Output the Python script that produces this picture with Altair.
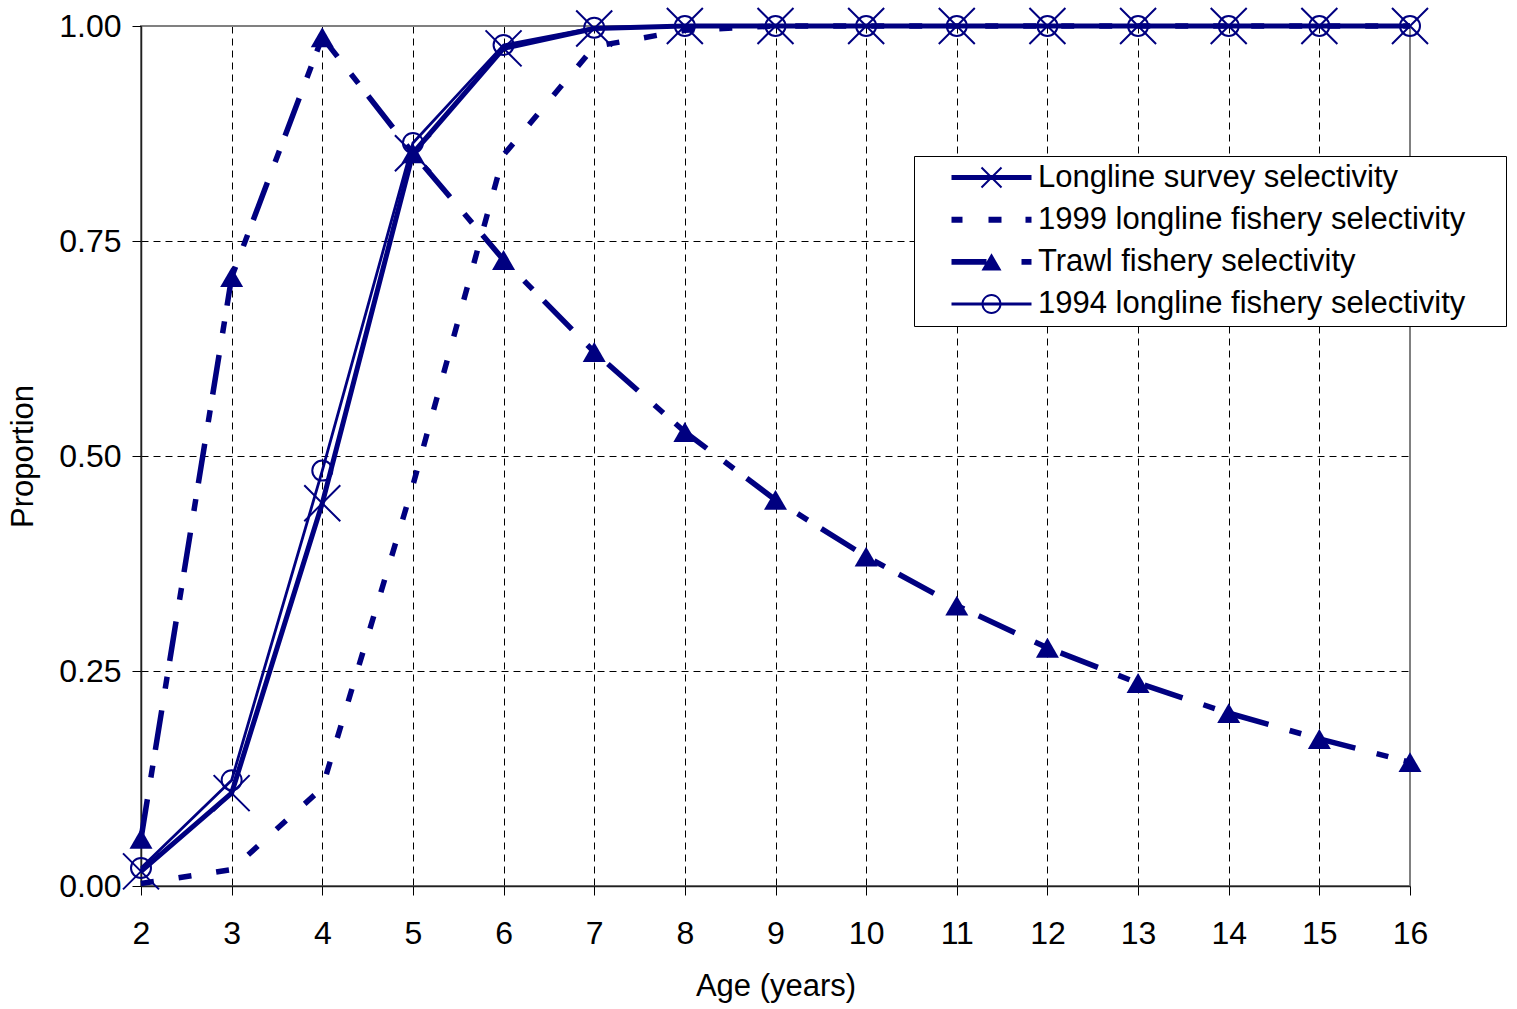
import altair as alt
import pandas as pd

ages = list(range(2, 17))
series_names = [
    "Longline survey selectivity",
    "1999 longline fishery selectivity",
    "Trawl fishery selectivity",
    "1994 longline fishery selectivity",
]
survey = [0.017, 0.108, 0.445, 0.852, 0.974, 0.997, 1.0, 1.0, 1.0, 1.0, 1.0, 1.0, 1.0, 1.0, 1.0]
ll1999 = [0.003, 0.019, 0.114, 0.466, 0.850, 0.976, 0.995, 1.0, 1.0, 1.0, 1.0, 1.0, 1.0, 1.0, 1.0]
trawl = [0.055, 0.708, 0.987, 0.852, 0.728, 0.621, 0.528, 0.449, 0.383, 0.326, 0.277, 0.236, 0.201, 0.171, 0.144]
ll1994 = [0.021, 0.123, 0.483, 0.864, 0.978, 0.998, 1.0, 1.0, 1.0, 1.0, 1.0, 1.0, 1.0, 1.0, 1.0]
x_ticks = ages
y_ticks = [0.0, 0.25, 0.5, 0.75, 1.0]

rows = []
for name, vals in zip(series_names, [survey, ll1999, trawl, ll1994]):
    for a, v in zip(ages, vals):
        rows.append({"age": a, "value": v, "series": name})
df = pd.DataFrame(rows)

NAVY = "#000080"
FONT = "Liberation Sans"

# legend symbols: line + marker, drawn as filled polygons (1 unit = 10 px)
leg_paths = [
    # solid thick line + X
    "M-4,-0.25H4V0.25H-4Z"
    "M-0.929,-1.071L1.071,0.929L0.929,1.071L-1.071,-0.929Z"
    "M-1.071,0.929L0.929,-1.071L1.071,-0.929L-0.929,1.071Z",
    # square dashes (trailing move widens the legend frame on the right)
    "M-4,-0.3H-2.9V0.3H-4Z"
    "M-0.3,-0.3H1.0V0.3H-0.3Z"
    "M3.4,-0.3H4V0.3H3.4Z"
    "M50.8,0",
    # long dash + triangle + short dash
    "M-4,-0.28H-0.5V0.28H-4Z"
    "M0,-0.866L1,0.866L-1,0.866Z"
    "M3.0,-0.28H4V0.28H3.0Z",
    # thin line + hollow circle
    "M-4,-0.15H4V0.15H-4Z"
    "M1,0A1,1 0 1,1 -1,0A1,1 0 1,1 1,0Z"
    "M0.8,0A0.8,0.8 0 1,0 -0.8,0A0.8,0.8 0 1,0 0.8,0Z",
]

x_axis = alt.Axis(
    values=x_ticks, title="Age (years)", grid=True,
    gridColor={"condition": {"test": "datum.value === 16", "value": "#808080"}, "value": "#000000"},
    gridDash={"condition": {"test": "datum.value === 16", "value": []}, "value": [7, 5]},
    gridWidth=1, tickSize=9, labelPadding=23, titlePadding=22, format="d",
    labelFlush=False, labelOverlap=False, labelFontSize=32,
)
y_axis = alt.Axis(
    values=y_ticks, title="Proportion", grid=True, format=".2f",
    gridColor={"condition": {"test": "datum.value === 1", "value": "#808080"}, "value": "#000000"},
    gridDash={"condition": {"test": "datum.value === 1", "value": []}, "value": [7, 5]},
    gridWidth=1, tickSize=9, labelPadding=11, titlePadding=19,
    labelFlush=False, labelOverlap=False, labelFontSize=32,
)

base = alt.Chart(df).encode(
    x=alt.X("age:Q", scale=alt.Scale(domain=[2, 16], nice=False), axis=x_axis),
    y=alt.Y("value:Q", scale=alt.Scale(domain=[0, 1], nice=False), axis=y_axis),
)


def sel(name):
    return base.transform_filter(alt.datum.series == name)


line_survey = sel(series_names[0]).mark_line(color=NAVY, strokeWidth=5)
pts_survey = sel(series_names[0]).mark_point(
    shape="M-1,-1L1,1M-1,1L1,-1", size=1296, color=NAVY, filled=False, strokeWidth=2, opacity=1
)
line_1999 = sel(series_names[1]).mark_line(color=NAVY, strokeWidth=5.5, strokeDash=[13, 25])
line_trawl = sel(series_names[2]).mark_line(color=NAVY, strokeWidth=5.5, strokeDash=[40, 22, 12, 16])
pts_trawl = sel(series_names[2]).mark_point(
    shape="triangle-up", size=529, color=NAVY, filled=True, opacity=1, strokeWidth=0
)
line_1994 = sel(series_names[3]).mark_line(color=NAVY, strokeWidth=2.8)
pts_1994 = sel(series_names[3]).mark_point(
    shape="circle", size=400, color=NAVY, filled=False, strokeWidth=2, opacity=1
)

legend_layer = base.transform_filter("false").mark_point(
    filled=True, color=NAVY, size=400, strokeWidth=0, opacity=1
).encode(
    shape=alt.Shape(
        "series:N",
        scale=alt.Scale(domain=series_names, range=leg_paths),
        legend=alt.Legend(
            orient="none", legendX=773, legendY=130, title=None,
            labelFont=FONT, labelFontSize=31, labelColor="#000000", labelLimit=0,
            symbolSize=400, symbolFillColor=NAVY, symbolStrokeWidth=0, symbolOpacity=1,
            symbolOffset=56, labelOffset=31, padding=6, rowPadding=10.2,
            fillColor="#ffffff", strokeColor="#000000", cornerRadius=0,
        ),
    )
)

chart = alt.layer(
    line_survey, pts_survey, line_1999, line_trawl, pts_trawl, line_1994, pts_1994, legend_layer
).properties(
    width=1269, height=860,
    padding={"left": 141, "top": 26, "right": 107, "bottom": 123},
    autosize=alt.AutoSizeParams(type="none"),
    background="#ffffff",
).configure_view(
    stroke="#808080", strokeWidth=2
).configure_axis(
    labelFont=FONT, titleFont=FONT, labelFontSize=32, titleFontSize=31,
    titleFontWeight="normal", labelColor="#000000", titleColor="#000000",
    domainColor="#202020", domainWidth=1.5, tickColor="#000000", tickWidth=1,
)

chart.save("out.html", embed_options={"renderer": "svg", "actions": False})
